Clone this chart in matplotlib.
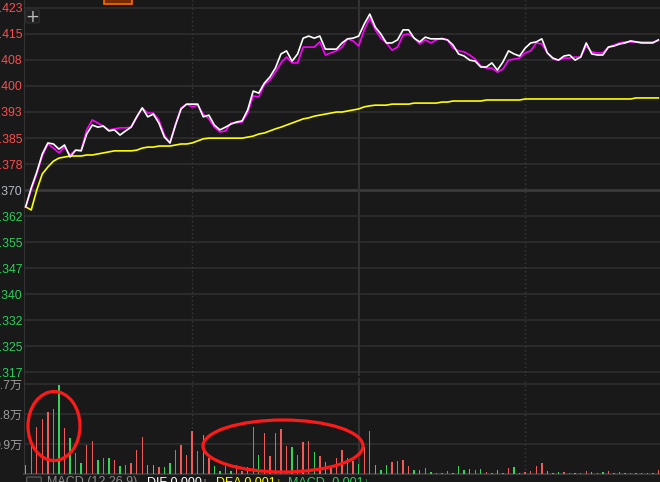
import numpy as np
import matplotlib.pyplot as plt
from matplotlib.patches import Ellipse, Rectangle, FancyBboxPatch

# 分时数据 (每点约2分钟)
price = [.3651, .3706, .3752, .3805, .3837, .3834, .3819, .3831, .3796, .3816,
         .3814, .3863, .3889, .3883, .3886, .3872, .3875, .3860, .3872, .3883,
         .3913, .3939, .3913, .3921, .3895, .3854, .3837, .3889, .3936, .3950,
         .3950, .3950, .3913, .3918, .3889, .3875, .3883, .3892, .3898, .3901,
         .3933, .3988, .3982, .4011, .4029, .4055, .4096, .4105, .4075, .4096,
         .4142, .4148, .4142, .4148, .4110, .4110, .4110, .4128, .4140, .4142,
         .4148, .4183, .4212, .4174, .4154, .4128, .4128, .4137, .4166, .4166,
         .4142, .4131, .4145, .4140, .4140, .4140, .4137, .4122, .4096, .4090,
         .4078, .4075, .4058, .4058, .4070, .4049, .4073, .4105, .4096, .4090,
         .4113, .4128, .4131, .4140, .4099, .4084, .4078, .4090, .4093, .4078,
         .4087, .4128, .4096, .4093, .4093, .4116, .4119, .4125, .4128, .4134,
         .4131, .4128, .4128, .4128, .4137]
avg_m = [.3651, .3700, .3747, .3799, .3834, .3822, .3808, .3825, .3802, .3816,
         .3816, .3875, .3904, .3895, .3886, .3875, .3878, .3881, .3881, .3883,
         .3910, .3939, .3924, .3924, .3904, .3860, .3837, .3892, .3939, .3950,
         .3942, .3947, .3921, .3907, .3883, .3869, .3872, .3895, .3895, .3898,
         .3924, .3974, .3971, .4006, .4020, .4043, .4070, .4087, .4070, .4070,
         .4116, .4116, .4116, .4131, .4093, .4099, .4105, .4116, .4140, .4134,
         .4119, .4166, .4201, .4166, .4142, .4128, .4107, .4116, .4151, .4154,
         .4142, .4125, .4137, .4128, .4137, .4142, .4137, .4113, .4105, .4102,
         .4093, .4081, .4061, .4055, .4055, .4043, .4052, .4078, .4081, .4084,
         .4099, .4105, .4128, .4125, .4099, .4081, .4078, .4084, .4084, .4087,
         .4087, .4119, .4102, .4099, .4099, .4116, .4122, .4128, .4131, .4131,
         .4131, .4131, .4131, .4131, .4134]
avg_y = [.3651, .3642, .3700, .3747, .3767, .3784, .3793, .3796, .3799, .3799,
         .3799, .3802, .3802, .3805, .3808, .3811, .3814, .3814, .3814, .3814,
         .3816, .3822, .3825, .3825, .3828, .3828, .3828, .3831, .3834, .3834,
         .3837, .3843, .3849, .3851, .3851, .3851, .3851, .3851, .3851, .3851,
         .3854, .3857, .3863, .3866, .3872, .3878, .3883, .3889, .3895, .3901,
         .3907, .3910, .3915, .3918, .3921, .3924, .3927, .3927, .3930, .3933,
         .3936, .3942, .3945, .3947, .3947, .3947, .3950, .3950, .3950, .3950,
         .3953, .3953, .3953, .3953, .3953, .3956, .3956, .3959, .3959, .3959,
         .3959, .3959, .3959, .3962, .3962, .3962, .3962, .3962, .3962, .3962,
         .3965, .3965, .3965, .3965, .3965, .3965, .3965, .3965, .3965, .3965,
         .3965, .3965, .3965, .3965, .3965, .3965, .3965, .3965, .3965, .3965,
         .3968, .3968, .3968, .3968, .3968]
volume = [2700, 8700, 14200, 16500, 18700, 19500, 26700, 13900, 10900, 6200,
          3200, 8700, 9900, 4200, 4700, 4700, 4200, 2500, 2700, 3200,
          7200, 11200, 2700, 2700, 2200, 2200, 3200, 7200, 8700, 5700,
          12900, 6900, 11700, 4900, 2500, 1000, 2500, 800, 2800, 800,
          2000, 14000, 5800, 12300, 5300, 12200, 13600, 8500, 8000, 5800,
          9500, 9800, 6500, 5500, 3500, 1800, 4800, 7100, 4800, 3800,
          3100, 8000, 12800, 2600, 1100, 2600, 3500, 3800, 4100, 2300,
          1100, 1100, 1700, 500, 200, 200, 800, 200, 2300, 1100,
          1400, 1100, 1400, 500, 200, 1100, 200, 1700, 2000, 200,
          500, 800, 2300, 3200, 800, 200, 500, 500, 200, 200,
          200, 800, 500, 200, 500, 800, 200, 500, 200, 200,
          200, 200, 200, 200, 1100]
vol_up = "grrrrrgrgrgrrgrgrgrrrrggrggrrrrrgrggrgrrrrgrrrrrgrrrgrgrrrrrgrrgggrrrrggrgrrrggggrgrrgrrggrrrrgggrrgrrgrgrrrrrrgrrr"
prev_close = 0.370
vol_ticks = [9000, 18000, 27000]
vol_labels = ['0.9万', '1.8万', '2.7万']

W, H = 660, 482
bg = '#191919'
grid_c = '#2e2e2e'
RED = '#f25a5a'
GREEN = '#36d25a'

def box(x0, y0, x1, y1):
    return [x0 / W, 1 - y1 / H, (x1 - x0) / W, (y1 - y0) / H]

fig = plt.figure(figsize=(6.6, 4.82), dpi=100, facecolor=bg)
ax = fig.add_axes(box(24, 0, 690, 376))
axv = fig.add_axes(box(24, 378, 690, 474))

x = np.arange(len(price))
lbl_font = ['Liberation Sans', 'Noto Sans CJK SC', 'DejaVu Sans']

# 价格区
ax.set_facecolor(bg)
ax.set_xlim(-0.3, 119.7)
ax.set_ylim(0.4253 - 0.000291 * 376, 0.4253)
step = 0.00757
ticks = [prev_close + k * step for k in range(-7, 8)]
for t in ticks:
    if abs(t - prev_close) < 1e-6:
        ax.axhline(t, color='#3a3a3a', lw=2, zorder=1)
    else:
        ax.axhline(t, color=grid_c, lw=1.2, zorder=1)
ax.axvline(60, color='#333333', lw=1.5, zorder=1)
for v in (30, 90):
    ax.axvline(v, color='#3a3a3a', lw=1, ls=(0, (1, 2)), zorder=1)
ax.set_yticks(ticks)
ax.set_yticklabels(['%.3f' % t for t in ticks], family=lbl_font, fontsize=8.8)
for t, lab in zip(ticks, ax.get_yticklabels()):
    if t > prev_close + 1e-6:
        lab.set_color('#ff4d4d')
    elif t < prev_close - 1e-6:
        lab.set_color('#2ecf5c')
    else:
        lab.set_color('#b4bcc6')
ax.tick_params(axis='y', length=0, pad=1)
ax.set_xticks([])
for s in ('top', 'right', 'bottom'):
    ax.spines[s].set_visible(False)
ax.spines['left'].set_color('#333333')

ax.plot(x, avg_y, color='#ffff00', lw=1.2, zorder=3)
ax.plot(x, avg_m, color='#ff00ff', lw=1.2, zorder=4)
ax.plot(x, price, color='#ffffff', lw=1.2, zorder=5)

# 成交量区
axv.set_facecolor(bg)
axv.set_xlim(-0.3, 119.7)
axv.set_ylim(0, 28800)
for t in vol_ticks:
    axv.axhline(t, color=grid_c, lw=1.2, zorder=1)
axv.axvline(60, color='#333333', lw=1.5, zorder=1)
for v in (30, 90):
    axv.axvline(v, color='#3a3a3a', lw=1, ls=(0, (1, 2)), zorder=1)
colors = [RED if c == 'r' else GREEN for c in vol_up]
axv.bar(x, volume, width=0.25, color=colors, zorder=3)
axv.set_yticks(vol_ticks)
axv.set_yticklabels(vol_labels, family=lbl_font, fontsize=8.8, color='#9a9a9a')
axv.tick_params(axis='y', length=0, pad=1)
axv.set_xticks([])
for s in ('top', 'right'):
    axv.spines[s].set_visible(False)
axv.spines['left'].set_color('#333333')
axv.spines['bottom'].set_color('#3a3a3a')
axv.spines['bottom'].set_linewidth(1.5)

# 标注红圈
for cx, cy, w, h in [(54, 426, 52, 69), (283, 446, 160, 52)]:
    fig.patches.append(Ellipse((cx / W, 1 - cy / H), w / W, h / H,
                               transform=fig.transFigure, fill=False,
                               edgecolor='#ff1a1a', lw=2.3, zorder=10))

# 顶部与底部的文字
fig.patches.append(FancyBboxPatch((27 / W, 1 - 22 / H), 11 / W, 11 / H,
                                  boxstyle='round,pad=0.002', transform=fig.transFigure,
                                  facecolor='#202020', edgecolor='#2c2c2c', lw=1))
fig.text(32.5 / W, 1 - 16.5 / H, '+', color='#bbbbbb', fontsize=12,
         ha='center', va='center')
fig.patches.append(Rectangle((104 / W, 1 - 4 / H), 28 / W, 8 / H,
                             transform=fig.transFigure, facecolor='#7a2a00',
                             edgecolor='#ff6a00', lw=1.2))

fs = 9
fig.patches.append(FancyBboxPatch((28 / W, 1 - 490 / H), 12 / W, 12 / H,
                                  boxstyle='round,pad=0.002', transform=fig.transFigure,
                                  facecolor='#202020', edgecolor='#555555', lw=1))
fig.text(47 / W, 1 - 476 / H, 'MACD (12,26,9)', color='#8a8a8a', fontsize=fs,
         va='top', family=lbl_font)
fig.text(147 / W, 1 - 476 / H, 'DIF 0.000↓', color='#ffffff', fontsize=fs,
         va='top', family=lbl_font)
fig.text(216 / W, 1 - 476 / H, 'DEA 0.001↓', color='#ffff00', fontsize=fs,
         va='top', family=lbl_font)
fig.text(288 / W, 1 - 476 / H, 'MACD -0.001↓', color='#2ecf5c', fontsize=fs,
         va='top', family=lbl_font)

fig.savefig('out.png', dpi=100, facecolor=bg)
